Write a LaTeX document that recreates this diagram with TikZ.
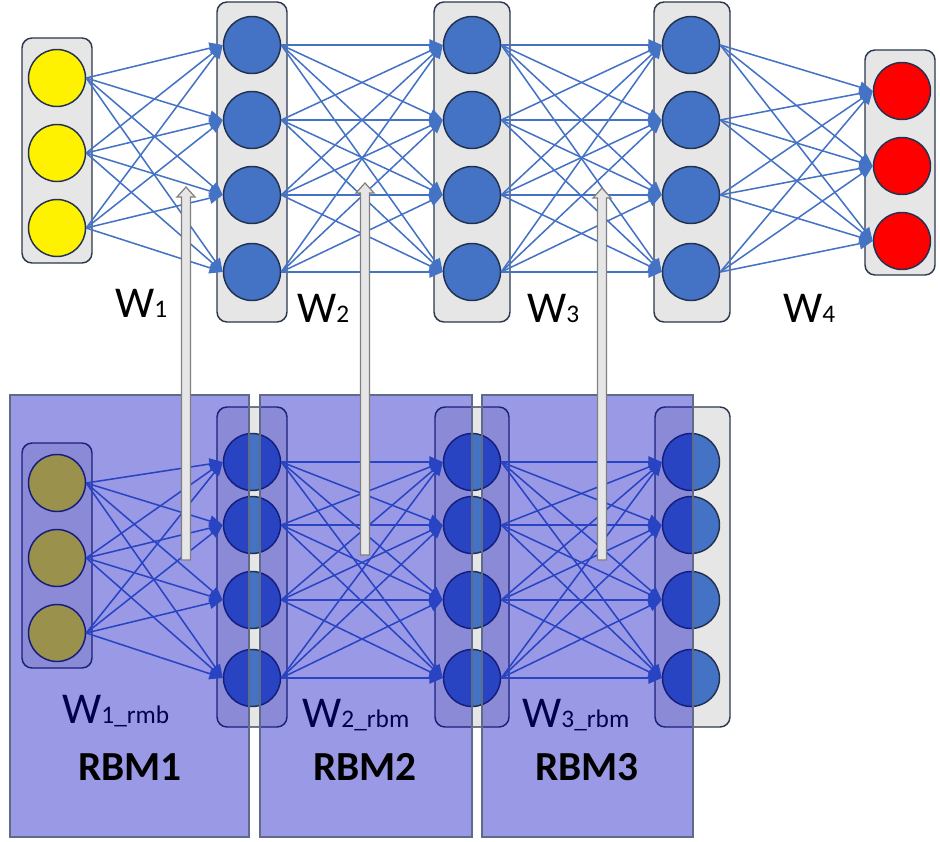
\documentclass[tikz,border=0pt]{standalone}
\usepackage{fontspec}
\setmainfont{Carlito}
\usetikzlibrary{arrows.meta}
\definecolor{nblue}{HTML}{4472C4}
\definecolor{cline}{HTML}{223150}
\definecolor{boxgray}{HTML}{E7E6E6}
\definecolor{bline}{HTML}{2B384D}
\definecolor{ovl}{RGB}{0,0,192}
\definecolor{ovlline}{RGB}{95,108,135}
\definecolor{argray}{HTML}{E7E6E6}
\definecolor{arline}{HTML}{7F7F7F}
\newcommand\wsubtxt[1]{{\fontsize{19pt}{19pt}\selectfont #1}}
\begin{document}
\begin{tikzpicture}[x=0.75pt,y=-0.75pt,
  lbox/.style={draw=bline, fill=boxgray, rounded corners=7.5pt, line width=1.1pt, inner sep=0},
  nc/.style={circle, draw=cline, line width=1.1pt, minimum size=42.75pt, inner sep=0},
  edge/.style={draw=nblue, line width=1.15pt, -{Triangle[length=10pt,width=8.5pt]}},
  wlab/.style={font=\fontsize{33pt}{33pt}\selectfont, inner sep=0},
  rlab/.style={font=\fontsize{31pt}{31pt}\selectfont\bfseries, inner sep=0},
  ovr/.style={fill=ovl, fill opacity=0.4, draw=ovlline, line width=1.1pt},
  uparr/.style={fill=argray, draw=arline, line width=0.9pt}]
\useasboundingbox (0,0) rectangle (940,842);

% ---------- top network ----------
\node[lbox, minimum width=52.5pt, minimum height=168.75pt] (T0) at (57,150.5) {};
\node[lbox, minimum width=52.5pt, minimum height=240pt] (T1) at (252,162) {};
\node[lbox, minimum width=57pt, minimum height=240pt] (T2) at (472,162) {};
\node[lbox, minimum width=57pt, minimum height=240pt] (T3) at (692,162) {};
\node[lbox, minimum width=52.5pt, minimum height=168.75pt] (T4) at (900,162.5) {};

\foreach \y [count=\i] in {78,153,228} \node[nc, fill=yellow] (t0\i) at (57,\y) {};
\foreach \y [count=\i] in {45,120,195,272} {
  \node[nc, fill=nblue] (t1\i) at (252,\y) {};
  \node[nc, fill=nblue] (t2\i) at (472,\y) {};
  \node[nc, fill=nblue] (t3\i) at (691,\y) {};
}
\foreach \y [count=\i] in {91,166,241} \node[nc, fill=red] (t4\i) at (902,\y) {};

\foreach \i in {1,2,3} \foreach \j in {1,...,4} \draw[edge] (t0\i.east) -- (t1\j.west);
\foreach \i in {1,...,4} \foreach \j in {1,...,4} {
  \draw[edge] (t1\i.east) -- (t2\j.west);
  \draw[edge] (t2\i.east) -- (t3\j.west);
}
\foreach \i in {1,...,4} \foreach \j in {1,2,3} \draw[edge] (t3\i.east) -- (t4\j.west);

\node[wlab, anchor=base west] (w1) at (115,317) {W\wsubtxt{1}};
\node[wlab, anchor=base west] (w2) at (297,322) {W\wsubtxt{2}};
\node[wlab, anchor=base west] (w3) at (527,322) {W\wsubtxt{3}};
\node[wlab, anchor=base west] (w4) at (783,322) {W\wsubtxt{4}};

% ---------- bottom network ----------
\node[lbox, minimum width=52.5pt, minimum height=168.75pt] (B0) at (57,555.5) {};
\node[lbox, minimum width=52.5pt, minimum height=240pt] (B1) at (252,567) {};
\node[lbox, minimum width=55.5pt, minimum height=240pt] (B2) at (472,567) {};
\node[lbox, minimum width=56.25pt, minimum height=240pt] (B3) at (692.5,567) {};

\foreach \y [count=\i] in {483,558,633} \node[nc, fill=yellow] (b0\i) at (57,\y) {};
\foreach \y [count=\i] in {462,525,600,678} {
  \node[nc, fill=nblue] (b1\i) at (252,\y) {};
  \node[nc, fill=nblue] (b2\i) at (472,\y) {};
  \node[nc, fill=nblue] (b3\i) at (691,\y) {};
}
\foreach \i in {1,2,3} \foreach \j in {1,...,4} \draw[edge] (b0\i.east) -- (b1\j.west);
\foreach \i in {1,...,4} \foreach \j in {1,...,4} {
  \draw[edge] (b1\i.east) -- (b2\j.west);
  \draw[edge] (b2\i.east) -- (b3\j.west);
}

\node[wlab, anchor=base west] (bw1) at (62,723) {W\wsubtxt{1\_rmb}};
\node[wlab, anchor=base west] (bw2) at (302,727) {W\wsubtxt{2\_rbm}};
\node[wlab, anchor=base west] (bw3) at (522,727) {W\wsubtxt{3\_rbm}};

% ---------- RBM overlays ----------
\draw[ovr] (10,395) rectangle (249,837);
\draw[ovr] (260,395) rectangle (472,837);
\draw[ovr] (482,395) rectangle (693,837);

\node[rlab, anchor=base west] (r1) at (78,780) {RBM1};
\node[rlab, anchor=base west] (r2) at (313,780) {RBM2};
\node[rlab, anchor=base west] (r3) at (535,780) {RBM3};

% ---------- up arrows ----------
\foreach \cx/\ty/\by in {186/187/560, 365/183/555, 602/188/560} {
  \coordinate (ub) at (\cx,\by);
  \coordinate (ut) at (\cx,\ty);
  \draw[uparr] (\cx-4.5,\by) -- (\cx-4.5,\ty+10) -- (\cx-9,\ty+10) -- (ut)
     -- (\cx+9,\ty+10) -- (\cx+4.5,\ty+10) -- (\cx+4.5,\by) -- cycle;
}
\end{tikzpicture}
\end{document}
